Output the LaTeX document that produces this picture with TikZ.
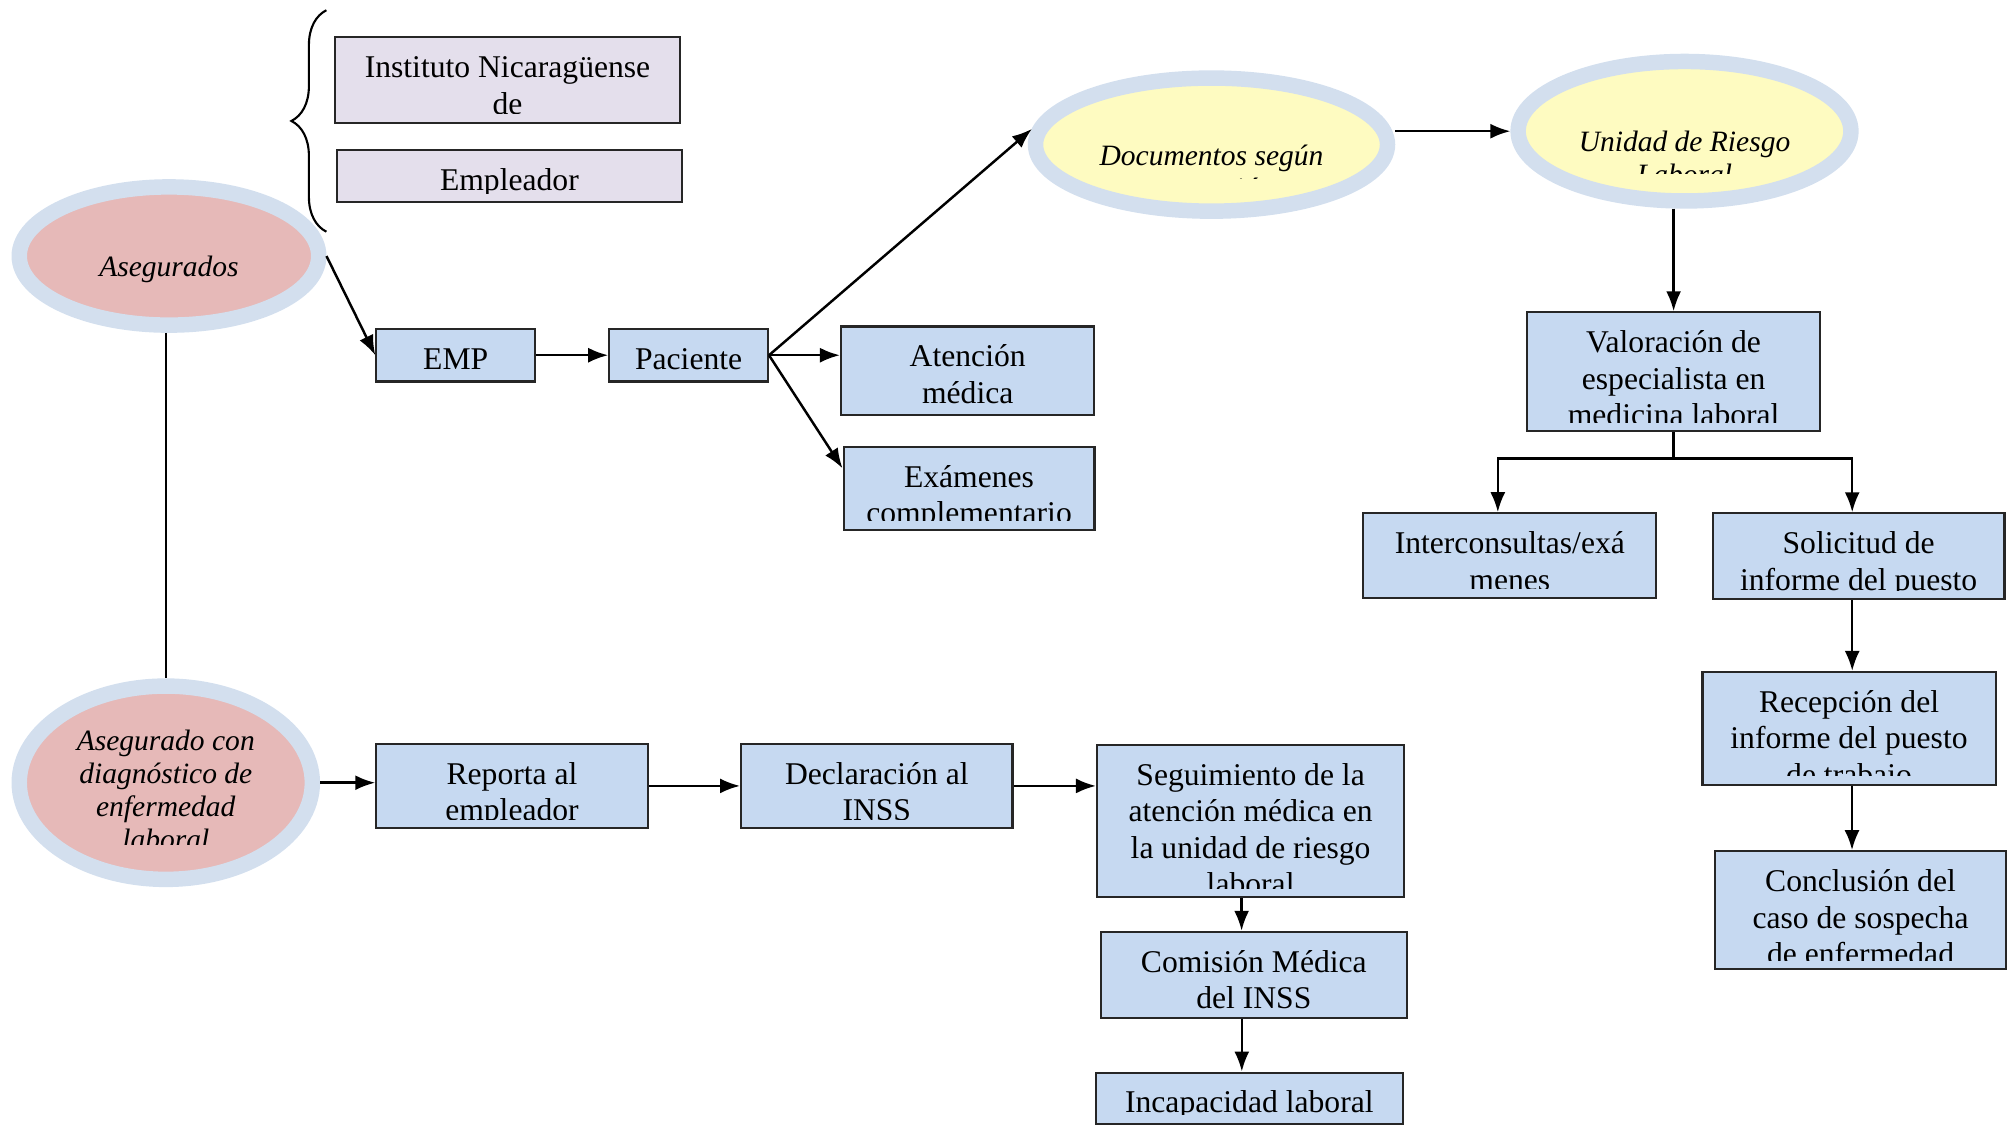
\documentclass[tikz,border=0pt]{standalone}
\usepackage{fontspec}
\setmainfont{Liberation Serif}
\usepackage{xcolor}
\usepackage{tikz}
\usetikzlibrary{shapes.geometric,arrows.meta,decorations.pathreplacing,calc}

\definecolor{lavbox}{HTML}{E4DFEC}
\definecolor{bluebox}{HTML}{C6D9F1}
\definecolor{ringblue}{HTML}{D3DFEE}
\definecolor{pinkfill}{HTML}{E6B9B8}
\definecolor{yelfill}{HTML}{FEFBC1}

\newcommand{\boxfont}{\fontsize{9}{10.4}\selectfont}
\newcommand{\ovalfont}{\fontsize{8.4}{9.4}\selectfont\itshape}

\tikzset{
  box/.style={draw=black!85, line width=0.6pt, fill=bluebox, inner sep=0pt},
  sz/.style 2 args={minimum width=#1cm, minimum height=#2cm},
  inlbl/.style={rectangle, draw=none, fill=none, anchor=north, inner sep=0pt, outer sep=0pt,
      minimum width=0pt, minimum height=0pt, align=center},
  txt/.style={path picture={
      \clip ([yshift=0.09cm]path picture bounding box.south west) rectangle (path picture bounding box.north east);
      \node[inlbl, font=\boxfont] at ($(path picture bounding box.north)-(0,4.2pt)$) {\strut #1};}},
  oval/.style={ellipse, draw=ringblue, line width=4.4pt, inner sep=0pt},
  otxt/.style n args={3}{path picture={
      \clip ([yshift=#2]path picture bounding box.south west) rectangle (path picture bounding box.north east);
      \node[inlbl, font=\ovalfont] at ($(path picture bounding box.north)-(0,#1)$) {\strut #3};}},
  arr/.style={-{Latex[length=2mm,width=1.5mm]}, line width=0.7pt}
}

\begin{document}
\begin{tikzpicture}
    \useasboundingbox (0,0) rectangle (20.07,-11.25);

    % entidades
    \draw[line width=0.6pt, decorate, decoration={brace, amplitude=0.35cm}] (3.264,-2.317) -- (3.264,-0.102);
    \node[box, fill=lavbox, sz={3.443}{0.858}, txt={Instituto Nicaragüense\\de}] (inst) at (5.075,-0.8) {};
    \node[box, fill=lavbox, sz={3.456}{0.525}, txt={Empleador}] (empl) at (5.094,-1.76) {};

    % elipses
    \node[oval, fill=pinkfill, sz={2.995}{1.382}, otxt={19pt}{0pt}{Asegurados}] (aseg) at (1.69,-2.56) {};
    \node[oval, fill=pinkfill, sz={2.931}{1.933}, otxt={11.7pt}{0.345cm}{Asegurado con\\diagnóstico de\\enfermedad\\laboral}] (diag) at (1.658,-7.827) {};
    \node[oval, fill=yelfill, sz={3.52}{1.331}, otxt={18.3pt}{0.33cm}{Documentos según\\ocupación}] (doc) at (12.115,-1.446) {};
    \node[oval, fill=yelfill, sz={3.328}{1.395}, otxt={19pt}{0.27cm}{Unidad de Riesgo\\Laboral}] (uni) at (16.845,-1.312) {};

    % rama superior
    \node[box, sz={1.587}{0.525}, txt={EMP}] (emp) at (4.557,-3.552) {};
    \node[box, sz={1.587}{0.525}, txt={Paciente}] (pac) at (6.886,-3.552) {};
    \node[box, sz={2.534}{0.883}, txt={Atención\\médica}] (aten) at (9.677,-3.706) {};
    \node[box, sz={2.509}{0.832}, txt={Exámenes\\complementario}] (exam) at (9.69,-4.883) {};
    \node[box, sz={2.931}{1.19}, txt={Valoración de\\especialista en\\medicina laboral}] (val) at (16.736,-3.718) {};
    \node[box, sz={2.931}{0.845}, txt={Interconsultas/exá\\menes}] (inter) at (15.098,-5.555) {};
    \node[box, sz={2.918}{0.858}, txt={Solicitud de\\informe del puesto}] (sol) at (18.586,-5.562) {};
    \node[box, sz={2.931}{1.126}, txt={Recepción del\\informe del puesto\\de trabajo}] (rec) at (18.49,-7.283) {};
    \node[box, sz={2.906}{1.178}, txt={Conclusión del\\caso de sospecha\\de enfermedad}] (conc) at (18.605,-9.101) {};

    % rama inferior
    \node[box, sz={2.714}{0.845}, txt={Reporta al\\empleador}] (rep) at (5.12,-7.859) {};
    \node[box, sz={2.714}{0.845}, txt={Declaración al\\INSS}] (dec) at (8.768,-7.859) {};
    \node[box, sz={3.072}{1.523}, txt={Seguimiento de la\\atención médica en\\la unidad de riesgo\\laboral}] (seg) at (12.506,-8.211) {};
    \node[box, sz={3.059}{0.858}, txt={Comisión Médica\\del INSS}] (com) at (12.538,-9.747) {};
    \node[box, sz={3.072}{0.512}, txt={Incapacidad laboral}] (inc) at (12.493,-10.982) {};

    % conectores
    \draw[line width=0.5pt] (diag.north |- aseg.south) -- (diag.north);
    \draw[arr] (aseg.east) -- (emp.west);
    \draw[arr] (emp.east) -- (pac.west);
    \draw[arr] (pac.east) -- (pac.east -| aten.west);
    \draw[arr] (pac.east) -- ([yshift=0.2cm]exam.west);
    \draw[arr] (pac.east) -- (doc.175);
    \draw[arr] (doc.east |- uni.west) -- (uni.west);
    \draw[arr] (val.north |- uni.south) -- (val.north);
    \draw[arr] (val.south) -- ++(0,-0.26) -| ([xshift=-0.12cm]inter.north);
    \draw[arr] (val.south) -- ++(0,-0.26) -| ([xshift=-0.064cm]sol.north);
    \draw[arr] ([xshift=-0.064cm]sol.south) -- ([xshift=-0.064cm]sol.south |- rec.north);
    \draw[arr] ([xshift=0.03cm]rec.south) -- ([xshift=0.03cm]rec.south |- conc.north);
    \draw[arr] (diag.east) -- (diag.east -| rep.west);
    \draw[arr] (rep.east) -- (dec.west);
    \draw[arr] (dec.east) -- (dec.east -| seg.west);
    \draw[arr] ([xshift=-0.09cm]seg.south) -- ([xshift=-0.09cm]seg.south |- com.north);
    \draw[arr] ([xshift=-0.12cm]com.south) -- ([xshift=-0.12cm]com.south |- inc.north);
\end{tikzpicture}
\end{document}
